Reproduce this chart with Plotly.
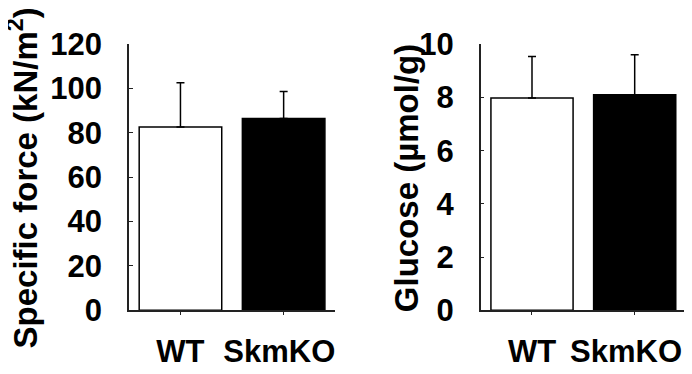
import plotly.graph_objects as go

groups = ["WT", "SkmKO"]
force_mean = [82.7, 86.5]
force_err = [19.9, 12.2]
glucose_mean = [7.98, 8.10]
glucose_err = [1.56, 1.51]
force_ticks = [0, 20, 40, 60, 80, 100, 120]
glucose_ticks = [0, 2, 4, 6, 8, 10]

bar_fill = ["white", "black"]
W, H = 692, 374
FONT = "Liberation Sans, Arial, sans-serif"


def px_x(p):
    return p / W


def px_y(p):
    return 1 - p / H


fig = go.Figure()
fig.add_trace(go.Bar(
    x=groups, y=force_mean, width=0.8,
    marker=dict(color=bar_fill, line=dict(color="black", width=1.5)),
    error_y=dict(type="data", symmetric=False, array=force_err, arrayminus=[0, 0],
                 color="black", thickness=1.5, width=4),
    xaxis="x", yaxis="y", showlegend=False,
))
fig.add_trace(go.Bar(
    x=groups, y=glucose_mean, width=0.8,
    marker=dict(color=bar_fill, line=dict(color="black", width=1.5)),
    error_y=dict(type="data", symmetric=False, array=glucose_err, arrayminus=[0, 0],
                 color="black", thickness=1.5, width=4),
    xaxis="x2", yaxis="y2", showlegend=False,
))

tickfont = dict(family=FONT, size=31, color="black", weight="bold")
axis_common = dict(showline=True, linecolor="#222", linewidth=1.5, showgrid=False, zeroline=False)

fig.update_layout(
    width=W, height=H,
    margin=dict(l=0, r=0, t=0, b=0),
    plot_bgcolor="white", paper_bgcolor="white",
    xaxis=dict(domain=[px_x(123), px_x(333)], range=[-0.5, 1.5], anchor="y",
               tickvals=groups, ticktext=["WT", "SkmKO&nbsp;"],
               ticks="outside", ticklen=3, tickcolor="#222", tickfont=tickfont,
               ticklabelstandoff=10, **axis_common),
    yaxis=dict(domain=[px_y(314.7), px_y(21.3)], range=[0, 120], anchor="x",
               tickvals=force_ticks,
               ticks="inside", ticklen=4, tickcolor="#222", tickfont=tickfont,
               ticklabelstandoff=19, **axis_common),
    xaxis2=dict(domain=[px_x(481), px_x(690)], range=[-0.5, 1.5], anchor="y2",
                tickvals=groups, ticktext=["WT", "SkmKO&nbsp;&nbsp;"],
                ticks="outside", ticklen=3, tickcolor="#222", tickfont=tickfont,
                ticklabelstandoff=10, **axis_common),
    yaxis2=dict(domain=[px_y(314.7), px_y(21.3)], range=[0, 10], anchor="x2",
                tickvals=glucose_ticks,
                ticks="inside", ticklen=4, tickcolor="#222", tickfont=tickfont,
                ticklabelstandoff=19, **axis_common),
    annotations=[
        dict(text="Specific force (kN/m<sup>2</sup>)", textangle=-90,
             x=px_x(15), y=px_y(168.5), xref="paper", yref="paper",
             xanchor="center", yanchor="middle", showarrow=False,
             font=dict(family=FONT, size=33, color="black", weight="bold")),
        dict(text="Glucose (µmol/g)", textangle=-90,
             x=px_x(405), y=px_y(169), xref="paper", yref="paper",
             xanchor="center", yanchor="middle", showarrow=False,
             font=dict(family=FONT, size=33, color="black", weight="bold")),
    ],
)

fig.write_html("out.html")
